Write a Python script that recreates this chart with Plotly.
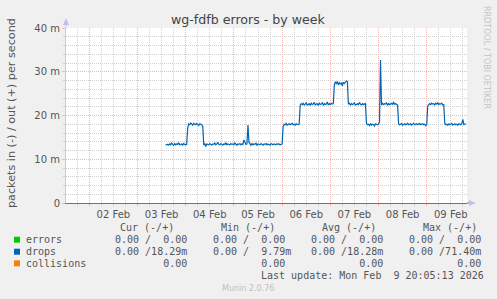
import plotly.graph_objects as go
import pandas as pd

# ---------------- data ----------------
series_start = "2026-02-03 14:00"   # first 30-min sample of the drops series
sample_step = "30min"

# drops, out (+) direction, in milli-packets per second (one value per 30 min)
drops_out_m = [
    13.3, 13.3, 13.4, 13.2, 13.5, 13.3, 13.7, 13.4, 13.2, 13.6,
    13.3, 13.5, 13.4, 13.8, 13.3, 13.4, 13.5, 13.2, 13.6, 13.4,
    13.3, 13.4, 17.2, 18.1, 17.9, 18.3, 18.0, 17.8, 18.2, 18.1,
    17.9, 18.2, 18.0, 17.7, 18.1, 18.0, 17.9, 17.5, 13.2, 13.6,
    12.9, 13.5, 13.4, 13.3, 13.6, 13.4, 13.2, 13.5, 13.4, 13.7,
    13.3, 13.5, 13.9, 13.4, 13.3, 13.6, 13.4, 13.2, 13.5, 13.4,
    13.8, 13.3, 13.5, 13.4, 13.3, 13.6, 13.4, 13.5, 13.3, 13.7,
    13.4, 13.2, 13.5, 13.4, 13.6, 13.3, 13.5, 13.4, 14.4, 13.6,
    13.4, 13.5, 17.8, 13.9, 13.4, 13.2, 13.6, 13.3, 13.5, 13.4,
    13.7, 13.2, 13.5, 13.4, 13.3, 13.6, 13.4, 13.2, 13.5, 13.4,
    13.6, 13.3, 13.5, 13.4, 13.2, 13.6, 13.4, 13.3, 13.5, 13.4,
    13.3, 13.6, 13.4, 13.5, 13.3, 13.4, 13.5, 17.4, 18.0, 17.9,
    18.2, 17.8, 18.0, 18.1, 17.9, 18.0, 18.2, 17.9, 18.0, 17.8,
    18.1, 18.0, 17.9, 18.0, 22.3, 22.7, 22.5, 22.8, 22.4, 22.6,
    22.9, 22.4, 22.6, 22.7, 22.3, 22.8, 22.5, 22.6, 23.0, 22.4,
    22.6, 22.7, 22.3, 22.8, 22.5, 22.6, 22.9, 22.4, 22.7, 22.5,
    22.6, 23.1, 22.4, 22.7, 22.5, 22.8, 22.6, 22.7, 27.1, 27.6,
    27.3, 27.8, 27.0, 27.5, 27.2, 27.4, 26.8, 27.6, 27.3, 27.5,
    27.9, 27.8, 22.6, 22.8, 22.4, 22.7, 22.5, 22.6, 22.9, 22.4,
    22.6, 22.7, 22.5, 23.0, 22.6, 22.4, 22.7, 22.5, 22.6, 22.8,
    18.2, 17.9, 18.0, 17.7, 18.1, 17.8, 18.0, 17.9, 17.6, 18.1,
    18.0, 17.9, 18.0, 18.5, 32.7, 22.4, 22.8, 22.5, 22.7, 22.6,
    22.9, 22.4, 22.7, 22.5, 22.6, 22.8, 22.5, 23.1, 22.6, 22.7,
    22.5, 22.4, 18.1, 17.9, 18.0, 18.2, 17.8, 18.0, 18.1, 17.9,
    18.0, 18.2, 17.9, 18.0, 18.1, 17.8, 18.0, 18.2, 17.9, 18.0,
    18.1, 17.9, 18.0, 18.2, 17.9, 18.0, 18.1, 17.9, 18.0, 17.7,
    17.9, 22.2, 22.6, 22.7, 22.5, 22.8, 22.6, 22.7, 22.4, 22.8,
    22.6, 22.9, 22.5, 22.7, 22.6, 22.8, 22.4, 22.5, 18.2, 17.9,
    18.0, 17.8, 18.1, 17.9, 18.0, 18.2, 17.8, 18.0, 18.1, 17.9,
    18.0, 17.8, 18.1, 18.0, 17.9, 18.2, 19.1, 17.9, 18.0, 18.1,
]

x_range = ["2026-02-01 12:24", "2026-02-09 20:04"]
y_range = [0, 40]
y_tickvals = [0, 10, 20, 30, 40]
y_ticktext = ["0", "10 m", "20 m", "30 m", "40 m"]

title_text = "wg-fdfb errors - by week"
y_title = "packets in (-) / out (+) per second"

legend_names = ["errors", "drops", "collisions"]
legend_colors = ["#00CC00", "#0066B3", "#FF8000"]
legend_headers = ["Cur (-/+)", "Min (-/+)", "Avg (-/+)", "Max (-/+)"]
legend_cur = ["0.00 /  0.00", "0.00 /18.29m", "        0.00"]
legend_min = ["0.00 /  0.00", "0.00 /  9.79m", "        0.00"]
legend_avg = ["0.00 /  0.00", "0.00 /18.28m", "        0.00"]
legend_max = ["0.00 /  0.00", "0.00 /71.40m", "        0.00"]
last_update = "Last update: Mon Feb  9 20:05:13 2026"
footer = "Munin 2.0.76"
side_text = "RRDTOOL / TOBI OETIKER"

# ---------------- layout geometry ----------------
W, H = 497, 299
ML, MR, MT, MB = 66, 30, 28, 96
PW = W - ML - MR
PH = H - MT - MB


def fx(px):
    return (px - ML) / PW


def fy(py):
    return (MT + PH - py) / PH


def nb(s):
    return s.replace(" ", "\u00a0")


times = pd.date_range(series_start, periods=len(drops_out_m), freq=sample_step)

fig = go.Figure()
fig.add_trace(go.Scatter(
    x=times, y=drops_out_m, mode="lines",
    line=dict(color=legend_colors[1], width=1.2),
    hoverinfo="skip", showlegend=False,
))

GRID_MINOR = "rgb(210,210,210)"
GRID_MAJOR = "rgb(240,182,182)"
AXIS_DARK = "rgb(112,112,150)"
TXT = "#555555"

fig.update_layout(
    width=W, height=H,
    margin=dict(l=ML, r=MR, t=MT, b=MB, pad=0),
    paper_bgcolor="#F0F0F0",
    plot_bgcolor="#FFFFFF",
    showlegend=False,
    font=dict(family="DejaVu Sans", size=10, color=TXT),
    xaxis=dict(
        type="date", range=x_range,
        tick0="2026-02-02", dtick=86400000,
        tickformat="%d %b", ticklabelmode="period",
        showgrid=True, gridcolor=GRID_MAJOR, griddash="1px,1px", gridwidth=1,
        ticks="outside", ticklen=2, tickcolor=GRID_MAJOR,
        minor=dict(dtick=6 * 3600 * 1000, tick0="2026-02-02",
                   showgrid=True, gridcolor=GRID_MINOR, griddash="1px,1px",
                   ticks="outside", ticklen=2, tickcolor=GRID_MINOR),
        showline=True, linecolor=AXIS_DARK, linewidth=1,
        zeroline=False,
        tickfont=dict(family="DejaVu Sans", size=10, color=TXT),
        fixedrange=True,
    ),
    yaxis=dict(
        range=y_range, tickvals=y_tickvals, ticktext=y_ticktext,
        showgrid=True, gridcolor=GRID_MAJOR, griddash="1px,1px", gridwidth=1,
        ticks="outside", ticklen=3, tickcolor=GRID_MAJOR,
        minor=dict(dtick=2, tick0=0, showgrid=True, gridcolor=GRID_MINOR,
                   griddash="1px,1px", ticks="outside", ticklen=2,
                   tickcolor=GRID_MINOR),
        showline=True, linecolor="#C8C8F4", linewidth=1,
        zeroline=False,
        tickfont=dict(family="DejaVu Sans", size=10, color=TXT),
        automargin=False,
        fixedrange=True,
    ),
)

ann = []
# title
ann.append(dict(text=title_text, x=fx(248), y=fy(19), xanchor="center", yanchor="middle",
                font=dict(family="DejaVu Sans", size=12.6, color="#444444")))
# side text
ann.append(dict(text=side_text, x=fx(487), y=fy(57), xanchor="center", yanchor="middle",
                textangle=90, font=dict(family="DejaVu Sans", size=8, color="#C4C4C4")))
# y axis title
ann.append(dict(text=y_title, x=fx(11), y=fy(113), xanchor="center", yanchor="middle",
                textangle=-90, font=dict(family="DejaVu Sans", size=11.2, color=TXT)))

MONO = "DejaVu Sans Mono"
row_y = [239.7, 251.7, 263.3]
head_x = [120.2, 220.5, 321.5, 422.5]
col_x = [114.5, 212.5, 310.5, 408.5]
for hx, h in zip(head_x, legend_headers):
    ann.append(dict(text=nb(h), x=fx(hx), y=fy(227.7), xanchor="left", yanchor="middle",
                    font=dict(family=MONO, size=10, color=TXT)))
cols = [legend_cur, legend_min, legend_avg, legend_max]
for i, name in enumerate(legend_names):
    ann.append(dict(text=nb(name), x=fx(25.5), y=fy(row_y[i]), xanchor="left", yanchor="middle",
                    font=dict(family=MONO, size=10, color=TXT)))
    for cx, col in zip(col_x, cols):
        ann.append(dict(text=nb(col[i]), x=fx(cx), y=fy(row_y[i]), xanchor="left",
                        yanchor="middle", font=dict(family=MONO, size=10, color=TXT)))
ann.append(dict(text=nb(last_update), x=fx(260.5), y=fy(275.3), xanchor="left", yanchor="middle",
                font=dict(family=MONO, size=10, color=TXT)))
ann.append(dict(text=footer, x=fx(248), y=fy(288), xanchor="center", yanchor="middle",
                font=dict(family="DejaVu Sans", size=8, color="#C0C0C0")))

for a in ann:
    a.update(xref="paper", yref="paper", showarrow=False, borderpad=0, borderwidth=0)
fig.update_layout(annotations=ann)

shapes = []
# legend colour squares
for i, c in enumerate(legend_colors):
    shapes.append(dict(type="rect", xref="paper", yref="paper",
                       x0=fx(14), x1=fx(20), y0=fy(row_y[i] + 3), y1=fy(row_y[i] - 3),
                       fillcolor=c, line=dict(width=0)))
# axis arrows
ARROW = "#C0C0F0"
shapes.append(dict(type="line", xref="paper", yref="paper", x0=fx(66), x1=fx(66),
                   y0=fy(28), y1=fy(21), line=dict(color="#C8C8F4", width=1)))
shapes.append(dict(type="path", xref="paper", yref="paper",
                   path=f"M {fx(63)},{fy(25)} L {fx(69)},{fy(25)} L {fx(66)},{fy(18)} Z",
                   fillcolor=ARROW, line=dict(width=0)))
shapes.append(dict(type="line", xref="paper", yref="paper", x0=fx(467), x1=fx(471),
                   y0=fy(203), y1=fy(203), line=dict(color=AXIS_DARK, width=1)))
shapes.append(dict(type="path", xref="paper", yref="paper",
                   path=f"M {fx(469)},{fy(200)} L {fx(469)},{fy(206)} L {fx(476)},{fy(203)} Z",
                   fillcolor=ARROW, line=dict(width=0)))
fig.update_layout(shapes=shapes)

fig.write_html("out.html")
